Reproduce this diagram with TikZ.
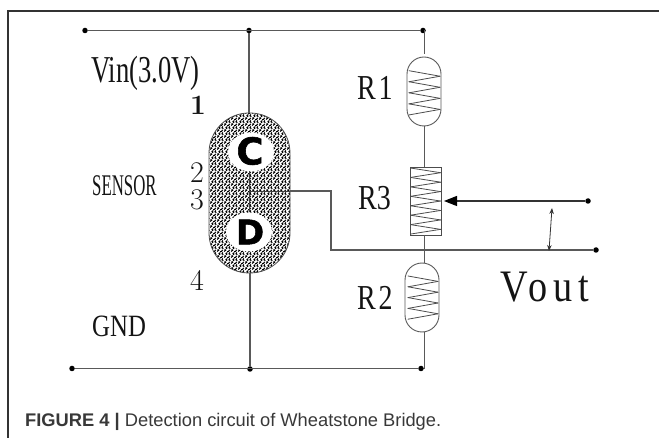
\documentclass[tikz,border=0pt]{standalone}
\usepackage{fontspec}
\usetikzlibrary{arrows.meta,patterns,shapes.geometric}
\newfontfamily\capfont{Liberation Sans}
\newfontfamily\serfont{Liberation Serif}
\newfontfamily\serspaced[LetterSpace=10]{Liberation Serif}
\newfontfamily\serwide[LetterSpace=15]{Liberation Serif}
\newfontfamily\markfont[BoldFeatures={FakeBold=1.5}]{DejaVu Sans}
\newcommand{\fsz}[1]{\fontsize{#1pt}{#1pt}\selectfont}
\newcommand{\tallt}[3]{\scalebox{#1}[1]{\fsz{#2}#3}}
\pgfdeclarepatternformonly{wormtile}{\pgfqpoint{-1pt}{-1pt}}{\pgfqpoint{8pt}{8pt}}{\pgfqpoint{7pt}{6pt}}{%
  \pgfsetlinewidth{1.05pt}%
  \pgfpathmoveto{\pgfqpoint{0pt}{0.6pt}}\pgfpathlineto{\pgfqpoint{1.6pt}{1.6pt}}\pgfpathlineto{\pgfqpoint{0.8pt}{2.8pt}}%
  \pgfpathmoveto{\pgfqpoint{3.2pt}{0.2pt}}\pgfpathlineto{\pgfqpoint{4.8pt}{0.8pt}}\pgfpathlineto{\pgfqpoint{5.6pt}{2.2pt}}%
  \pgfpathmoveto{\pgfqpoint{3pt}{3pt}}\pgfpathlineto{\pgfqpoint{2pt}{4.6pt}}\pgfpathlineto{\pgfqpoint{3.4pt}{5.4pt}}%
  \pgfpathmoveto{\pgfqpoint{6.4pt}{3.4pt}}\pgfpathlineto{\pgfqpoint{5pt}{4.2pt}}\pgfpathlineto{\pgfqpoint{5.8pt}{5.6pt}}%
  \pgfusepath{stroke}}
\newcommand{\zigz}[5]{% left, right, y start, step, segments
  \foreach \k [evaluate=\k as \j using int(\k-1)] in {1,...,#5} {
    \ifodd\k\relax
      \draw[zig] (#1,{#3+\j*#4}) -- (#2,{#3+\k*#4});
    \else
      \draw[zig] (#2,{#3+\j*#4}) -- (#1,{#3+\k*#4});
    \fi
  }}
\tikzset{
  wire/.style={draw=black!65,line width=1.1pt},
  frameline/.style={draw=black!80,line width=1.2pt},
  zig/.style={draw=black!70,line width=.8pt,line cap=round},
  dot/.style={circle,fill=black,inner sep=0pt,minimum size=5.5pt},
  capsule/.style={draw=black!65,line width=.9pt,rectangle,rounded corners=17pt,minimum width=34pt,minimum height=69pt,inner sep=0pt},
  lab/.style={anchor=base west,inner sep=0pt,text=black!92},
  hole/.style={ellipse,fill=white,inner sep=0pt,minimum width=46pt,minimum height=39pt,font=\markfont\bfseries}
}
\begin{document}
\begin{tikzpicture}[x=1pt,y=-1pt]
\useasboundingbox (0,0) rectangle (659,438);
\coordinate (fa) at (8,438); \coordinate (fb) at (8,11); \coordinate (fc) at (659,11);
\draw[frameline] (fa) -- (fb) -- (fc);
% sensor
\node[rectangle,rounded corners=40pt,minimum width=81pt,minimum height=160pt,inner sep=0pt,draw=black!70,line width=.8pt,pattern=wormtile,pattern color=black] (sensor) at (249.5,193) {};
\node[hole] (C) at (251,152) {};
\node[hole] (D) at (249,232) {};
\node[inner sep=0pt] (Ct) at (250,151) {\markfont\bfseries\fsz{37}C};
\node[inner sep=0pt] (Dt) at (250,232) {\markfont\bfseries\fsz{34}D};
% dots
\node[dot] (t1) at (85,30.5) {};
\node[dot] (t2) at (249,30.5) {};
\node[dot] (t3) at (423,30.5) {};
\node[dot] (b1) at (72,368.5) {};
\node[dot] (b2) at (250,369) {};
\node[dot] (b3) at (421,368.5) {};
\node[dot] (o1) at (588,201) {};
\node[dot] (o2) at (596,250) {};
% resistors
\node[capsule] (R1) at (424,91.5) {};
\node[capsule] (R2) at (422,297.5) {};
\node[draw=black!70,line width=.9pt,rectangle,minimum width=31pt,minimum height=68pt,inner sep=0pt] (R3) at (425.5,201) {};
\zigz{409}{440}{70.7}{5.53}{8}
\zigz{408}{438}{276}{5.4}{8}
\zigz{410.5}{440.5}{168}{4.72}{14}
% wires
\draw[wire] (t1) -- (t3);
\draw[wire] (t2) -- (sensor.north -| t2);
\coordinate (r1top) at (424.5,54);
\coordinate (r1bot) at (424.5,126);
\coordinate (r3top) at (424.5,167);
\coordinate (r3bot) at (424.5,235);
\coordinate (r2top) at (424.5,263);
\coordinate (r2bot) at (424.5,332);
\coordinate (r2end) at (424.5,368.5);
\coordinate (top3) at (424.5,30.5);
\draw[wire] (top3) -- (r1top);
\draw[wire] (r1bot) -- (r3top);
\draw[wire] (r3bot) -- (r2top);
\draw[wire] (r2bot) -- (r2end) -- (b3);
\draw[wire] (b1) -- (b3);
\draw[wire] (b2) -- (b2 |- sensor.south);
\draw[draw=black!75,line width=.9pt] (249,171) coordinate (cs) -- (249,212) coordinate (dn);
\coordinate (mid) at (249,191);
\coordinate (k1) at (331,191);
\coordinate (k2) at (331,250);
\draw[draw=black!75,line width=.8pt] (mid) -- (sensor.east |- mid);
\draw[wire] (sensor.east |- mid) -- (k1) -- (k2) -- (o2);
\coordinate (tip) at (444,201);
\draw[wire,black!80,-{Triangle[length=13pt,width=10pt,black]}] (o1) -- (tip);
\coordinate (u1) at (552,208);
\coordinate (u2) at (549,251);
\draw[black!80,line width=.8pt,{Stealth[length=6pt,width=4.5pt]}-{Stealth[length=6pt,width=4.5pt]}] (u1) -- (u2);
% labels
\node[lab] (vin) at (91,83) {\tallt{.70}{38}{\serfont Vin(3.0V)}};
\node[lab] (n1) at (190,115) {\bfseries\fsz{28}1};
\node[lab] (n2) at (190,183) {\fsz{30}2};
\node[lab] (n3) at (190,210) {\fsz{30}3};
\node[lab] (n4) at (190,291) {\fsz{30}4};
\node[lab] (sens) at (92,196) {\tallt{.56}{30}{\serfont SENSOR}};
\node[lab] (gnd) at (92,337) {\tallt{.8}{31}{\serfont GND}};
\node[lab] (lr1) at (357,100) {\tallt{.8}{35}{\serspaced R1}};
\node[lab] (lr3) at (358,210) {\tallt{.8}{35}{\serfont R3}};
\node[lab] (lr2) at (357,310) {\tallt{.8}{35}{\serspaced R2}};
\node[lab] (vout) at (500,302) {\tallt{.85}{45}{\serwide Vout}};
\node[anchor=base west,inner sep=0pt,text=black!78] (cap) at (25,427) {\capfont\fsz{18.3}{\bfseries FIGURE 4 | }Detection circuit of Wheatstone Bridge.};
\end{tikzpicture}
\end{document}
